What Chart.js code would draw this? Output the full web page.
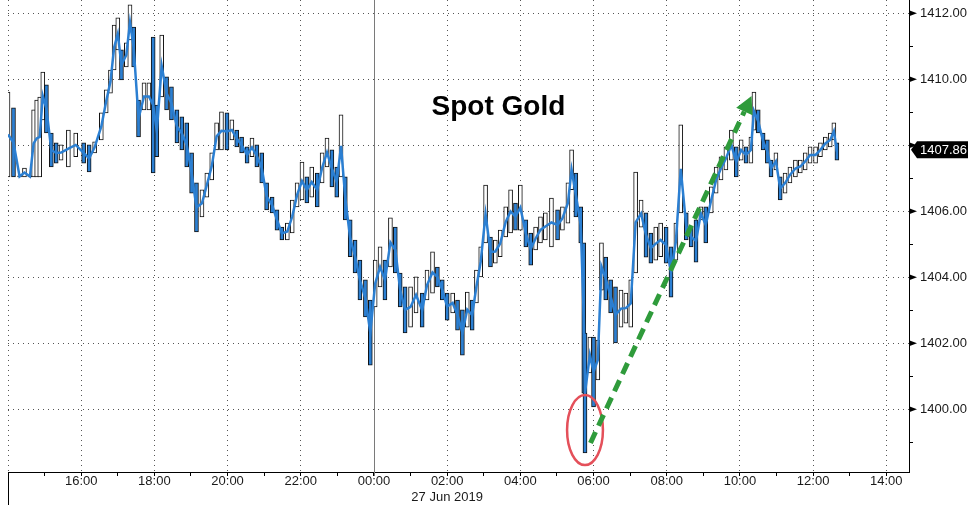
<!DOCTYPE html>
<html>
<head>
<meta charset="utf-8">
<script src="https://cdn.jsdelivr.net/npm/chart.js@4.4.0/dist/chart.umd.min.js"></script>
<style>
  html, body { margin: 0; padding: 0; background: #fff; }
  #wrap { width: 977px; height: 511px; position: relative; }
</style>
</head>
<body>
<div id="wrap"><canvas id="goldChart"></canvas></div>
<script>
// Spot gold, 26-27 Jun 2019, bucket highs/lows
const times = [
  "14:00","14:09","14:19","14:27","14:36","14:42","14:47","14:52","14:57","15:03",
  "15:11","15:19","15:27","15:39","15:51","16:04","16:13","16:22","16:33","16:41",
  "16:48","16:54","17:00","17:06","17:14","17:20","17:26","17:34","17:43","17:51",
  "17:58","18:04","18:12","18:20","18:28","18:37","18:45","18:53","19:01","19:09",
  "19:18","19:26","19:34","19:42","19:50","19:59","20:07","20:15","20:23","20:32",
  "20:40","20:48","20:56","21:04","21:13","21:21","21:29","21:38","21:46","21:54",
  "22:02","22:10","22:18","22:27","22:35","22:43","22:51","22:59","23:06","23:13",
  "23:21","23:29","23:37","23:46","23:54","00:02","00:10","00:18","00:27","00:35",
  "00:43","00:51","01:00","01:09","01:19","01:27","01:36","01:44","01:52","02:00",
  "02:09","02:17","02:25","02:33","02:41","02:48","02:55","03:03","03:11","03:19",
  "03:27","03:36","03:44","03:52","04:00","04:09","04:17","04:25","04:33","04:41",
  "04:51","05:01","05:09","05:18","05:24","05:31","05:39","05:44","05:46","05:54",
  "06:00","06:07","06:13","06:20","06:28","06:36","06:45","06:53","07:01","07:09",
  "07:18","07:26","07:34","07:42","07:50","07:59","08:07","08:15","08:23","08:32",
  "08:40","08:48","08:56","09:04","09:13","09:21","09:29","09:37","09:46","09:54",
  "10:02","10:10","10:18","10:23","10:30","10:38","10:45","10:51","10:59","11:06",
  "11:14","11:22","11:31","11:39","11:47","11:55","12:04","12:12","12:20","12:28",
  "12:34","12:39"
]

const highs = [
  1409.61,1409.13,1407.07,1407.31,1407.07,1409.07,1409.37,1409.46,1410.22,1409.83,
  1408.37,1408.07,1408.01,1408.46,1408.37,1408.07,1408.01,1408.10,1408.98,1409.68,
  1410.28,1411.64,1411.86,1410.89,1411.10,1412.25,1411.58,1409.37,1409.89,1409.89,
  1411.28,1409.22,1411.34,1410.07,1409.77,1409.07,1408.86,1408.68,1407.77,1406.86,
  1406.65,1407.16,1407.77,1408.68,1409.01,1408.98,1408.77,1408.46,1408.25,1407.95,
  1408.22,1408.01,1407.77,1406.86,1406.43,1406.04,1405.52,1405.64,1406.34,1406.86,
  1407.49,1407.04,1407.34,1407.16,1407.77,1408.22,1407.86,1407.34,1408.92,1407.04,
  1405.74,1405.13,1404.52,1403.92,1403.31,1404.52,1404.92,1404.52,1405.80,1405.52,
  1404.13,1403.71,1403.71,1404.01,1403.52,1404.22,1404.77,1404.31,1403.92,1403.52,
  1403.52,1403.31,1403.01,1403.55,1403.31,1404.22,1404.92,1406.79,1405.22,1405.13,
  1405.43,1406.13,1406.65,1406.25,1406.79,1405.74,1405.34,1405.52,1405.83,1405.95,
  1406.40,1406.04,1406.13,1406.86,1407.86,1407.16,1406.13,1405.04,1402.31,1402.19,
  1402.19,1402.10,1405.04,1404.61,1403.92,1403.71,1403.61,1403.52,1403.92,1407.19,
  1406.34,1405.95,1405.34,1405.52,1405.64,1405.52,1404.92,1405.64,1408.62,1405.95,
  1405.52,1405.74,1406.13,1406.13,1406.74,1407.34,1407.65,1407.95,1408.46,1407.95,
  1408.16,1407.95,1408.25,1409.61,1409.07,1408.37,1408.16,1407.55,1407.77,1407.04,
  1407.16,1407.34,1407.55,1407.55,1407.77,1407.95,1407.95,1408.07,1408.25,1408.37,
  1408.68,1408.07
]

const lows = [
  1407.04,1407.04,1407.04,1407.04,1407.04,1407.04,1407.04,1407.04,1408.77,1408.37,
  1407.34,1407.46,1407.55,1407.34,1407.65,1407.46,1407.19,1407.77,1408.16,1408.98,
  1409.58,1410.28,1410.89,1409.98,1410.37,1411.19,1410.37,1408.25,1409.07,1409.07,
  1407.16,1407.65,1409.46,1409.07,1408.77,1408.07,1407.86,1407.34,1406.55,1405.37,
  1405.83,1406.43,1406.95,1407.86,1407.86,1407.86,1408.16,1407.95,1407.77,1407.46,
  1407.65,1407.34,1406.86,1406.04,1405.95,1405.43,1405.13,1405.13,1405.34,1406.13,
  1406.34,1406.25,1406.43,1406.13,1406.86,1407.34,1406.74,1406.43,1407.04,1405.74,
  1404.62,1404.13,1403.31,1402.80,1401.34,1403.10,1403.71,1403.31,1404.31,1404.13,
  1403.10,1402.31,1402.49,1402.92,1402.49,1403.31,1403.52,1403.71,1403.31,1402.70,
  1402.92,1402.40,1401.64,1402.49,1402.40,1403.22,1404.01,1405.04,1404.31,1404.43,
  1404.62,1405.22,1405.34,1405.43,1405.43,1404.92,1404.37,1404.83,1405.04,1405.13,
  1404.92,1405.13,1405.43,1405.64,1406.65,1405.83,1405.04,1400.49,1398.68,1401.10,
  1400.07,1400.89,1403.61,1403.31,1402.92,1402.01,1402.49,1402.61,1402.49,1404.13,
  1405.52,1404.61,1404.43,1404.52,1404.62,1404.43,1403.40,1404.52,1405.95,1405.13,
  1404.92,1404.46,1405.74,1405.04,1405.95,1406.55,1406.95,1407.25,1407.55,1407.04,
  1407.55,1407.46,1407.46,1408.46,1408.37,1407.86,1407.46,1407.04,1407.25,1406.34,
  1406.55,1406.86,1407.04,1407.16,1407.25,1407.46,1407.46,1407.65,1407.86,1407.95,
  1408.16,1407.55
]

const lastPrice = 1407.86
const dateLabel = "27 Jun 2019"

// annotation anchors in chart units (time, price)
const circleAt = { time: "05:46", price: 1399.37, dx: 0.49, dy: 1.06 }
const arrowFrom = { time: "05:55", price: 1398.98 }
const arrowTo = { time: "10:19", price: 1409.49 }
const titleAt = { time: "03:24", price: 1408.92 }

const FONT = "'Liberation Sans', Arial, sans-serif"

// hours relative to midnight of 27 Jun (afternoon times belong to 26 Jun)
function toHours(t) {
  const [h, m] = t.split(":").map(Number)
  let v = h + m / 60
  if (h >= 13) v -= 24
  return v
}

const ranges = times.map((t, i) => ({ x: toHours(t), y: [lows[i], highs[i]] }))
const mids = times.map((t, i) => ({ x: toHours(t), y: (lows[i] + highs[i]) / 2 }))
const isUp = times.map((t, i) => i === 0 || highs[i] + lows[i] >= highs[i - 1] + lows[i - 1])

const overlay = {
  id: "overlay",
  beforeDatasetsDraw(chart) {
    const { ctx, chartArea, scales } = chart
    const x0 = scales.x.getPixelForValue(0)
    ctx.save()
    ctx.strokeStyle = "#7a7a7a"
    ctx.lineWidth = 1
    ctx.beginPath()
    ctx.moveTo(Math.round(x0) + 0.5, chartArea.top)
    ctx.lineTo(Math.round(x0) + 0.5, chartArea.bottom + 4)
    ctx.stroke()
    // left frame stub under the axis
    ctx.strokeStyle = "#000"
    ctx.beginPath()
    ctx.moveTo(chartArea.left + 0.5, chartArea.bottom)
    ctx.lineTo(chartArea.left + 0.5, chartArea.bottom + 33)
    ctx.stroke()
    ctx.restore()
  },
  afterDatasetsDraw(chart) {
    const { ctx, chartArea, scales } = chart
    const xs = scales.x, ys = scales.y
    ctx.save()

    // title
    ctx.fillStyle = "#000"
    ctx.font = "bold 28px " + FONT
    ctx.textAlign = "center"
    ctx.textBaseline = "alphabetic"
    ctx.fillText("Spot Gold", xs.getPixelForValue(toHours(titleAt.time)), ys.getPixelForValue(titleAt.price))

    // red circle round the low
    const cx = xs.getPixelForValue(toHours(circleAt.time))
    const cy = ys.getPixelForValue(circleAt.price)
    const rx = xs.getPixelForValue(toHours(circleAt.time) + circleAt.dx) - cx
    const ry = cy - ys.getPixelForValue(circleAt.price + circleAt.dy)
    ctx.strokeStyle = "#e4505a"
    ctx.lineWidth = 2.5
    ctx.beginPath()
    ctx.ellipse(cx, cy, rx, ry, 0, 0, Math.PI * 2)
    ctx.stroke()

    // green dashed arrow
    const ax = xs.getPixelForValue(toHours(arrowFrom.time)), ay = ys.getPixelForValue(arrowFrom.price)
    const bx = xs.getPixelForValue(toHours(arrowTo.time)), by = ys.getPixelForValue(arrowTo.price)
    const ang = Math.atan2(by - ay, bx - ax)
    const headLen = 17, headW = 9
    const ex = bx - Math.cos(ang) * headLen, ey = by - Math.sin(ang) * headLen
    ctx.strokeStyle = "#2f9b3b"
    ctx.fillStyle = "#2f9b3b"
    ctx.lineWidth = 5
    ctx.setLineDash([12, 7])
    ctx.beginPath()
    ctx.moveTo(ax, ay)
    ctx.lineTo(ex, ey)
    ctx.stroke()
    ctx.setLineDash([])
    ctx.beginPath()
    ctx.moveTo(bx, by)
    ctx.lineTo(ex + Math.sin(ang) * headW, ey - Math.cos(ang) * headW)
    ctx.lineTo(ex - Math.sin(ang) * headW, ey + Math.cos(ang) * headW)
    ctx.closePath()
    ctx.fill()

    // arrow heads on the price axis
    const axisX = chartArea.right
    ctx.fillStyle = "#000"
    ys.ticks.forEach((t) => {
      if (t.value % 2 !== 0) return
      const y = ys.getPixelForValue(t.value)
      ctx.beginPath()
      ctx.moveTo(axisX, y - 3)
      ctx.lineTo(axisX + 8, y)
      ctx.lineTo(axisX, y + 3)
      ctx.closePath()
      ctx.fill()
    })

    // last price tag
    const py = ys.getPixelForValue(lastPrice)
    ctx.fillStyle = "#000"
    ctx.beginPath()
    ctx.moveTo(axisX + 2, py)
    ctx.lineTo(axisX + 8, py - 8.5)
    ctx.lineTo(axisX + 59, py - 8.5)
    ctx.lineTo(axisX + 59, py + 8.5)
    ctx.lineTo(axisX + 8, py + 8.5)
    ctx.closePath()
    ctx.fill()
    ctx.fillStyle = "#fff"
    ctx.font = "13px " + FONT
    ctx.textAlign = "left"
    ctx.textBaseline = "middle"
    ctx.fillText(lastPrice.toFixed(2), axisX + 11, py + 1)

    ctx.restore()
  },
}

const ctx = document.getElementById("goldChart")
new Chart(ctx, {
  type: "bar",
  data: {
    datasets: [
      {
        type: "line",
        label: "Mid",
        data: mids,
        borderColor: "#2b7fd2",
        borderWidth: 2.5,
        pointRadius: 0,
        tension: 0,
        order: 0,
      },
      {
        label: "Spot Gold",
        data: ranges,
        backgroundColor: isUp.map((u) => (u ? "#ffffff" : "#2b7fd2")),
        borderColor: "#111111",
        borderWidth: 1,
        borderSkipped: false,
        barThickness: 4,
        order: 1,
      },
    ],
  },
  options: {
    animation: false,
    responsive: true,
    maintainAspectRatio: false,
    layout: { padding: { left: 8, top: 0, right: 0, bottom: 0 } },
    plugins: {
      legend: { display: false },
      tooltip: { enabled: false },
    },
    scales: {
      x: {
        type: "linear",
        min: -10,
        max: 14.62,
        offset: false,
        ticks: {
          stepSize: 1,
          includeBounds: false,
          autoSkip: false,
          maxRotation: 0,
          padding: -2,
          color: "#1a1a1a",
          font: { family: FONT, size: 13 },
          callback: (v) => {
            if (v % 2 !== 0 || v === -10) return ""
            const h = ((v % 24) + 24) % 24
            const lbl = String(h).padStart(2, "0") + ":00"
            return v === 2 ? [lbl, dateLabel] : lbl
          },
        },
        grid: {
          offset: false,
          color: (c) => (c.tick && c.tick.value % 2 === 0 && c.tick.value !== 0 ? "#555" : "rgba(0,0,0,0)"),
          tickColor: "#000",
          tickLength: 4,
        },
        border: { display: true, color: "#000", width: 1, dash: [1, 4] },
        afterFit: (s) => {
          s.height = 39
          s.paddingLeft = 0
          s.paddingRight = 0
        },
      },
      y: {
        position: "right",
        min: 1398.1,
        max: 1412.4,
        ticks: {
          stepSize: 1,
          includeBounds: false,
          padding: 7,
          color: "#1a1a1a",
          font: { family: FONT, size: 13 },
          callback: (v) => (v % 2 === 0 && Math.abs(v - lastPrice) > 0.5 ? v.toFixed(2) : ""),
        },
        grid: {
          color: (c) => (c.tick && c.tick.value % 2 === 0 ? "#555" : "rgba(0,0,0,0)"),
          tickColor: "#000",
          tickLength: 4,
        },
        border: { display: true, color: "#000", width: 1, dash: [1, 4] },
        afterFit: (s) => {
          s.width = 68
          s.paddingTop = 0
          s.paddingBottom = 0
        },
      },
    },
  },
  plugins: [overlay],
})
</script>
</body>
</html>
